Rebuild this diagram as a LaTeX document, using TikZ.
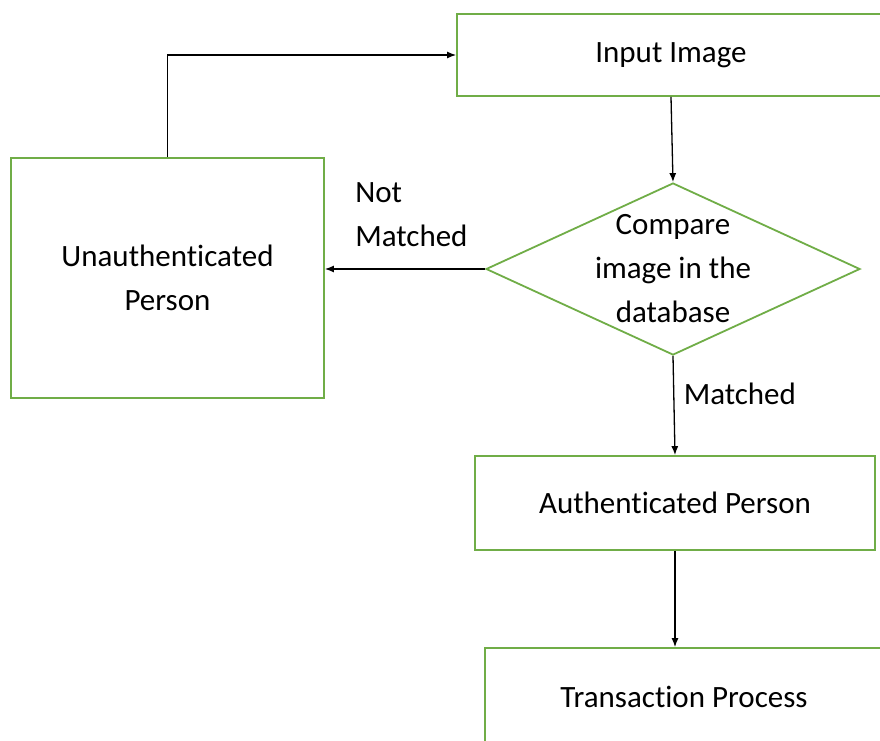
\documentclass[tikz,border=0pt]{standalone}
\usepackage{fontspec}
\setmainfont{Carlito}[Ligatures=CommonOff]
\usepackage{tikz}
\usetikzlibrary{shapes.geometric,positioning,arrows.meta}
\definecolor{boxgreen}{RGB}{112,173,71}

\begin{document}
\begin{tikzpicture}[x=1pt,y=-1pt,->,>={Latex[length=9pt,width=7pt]},line width=1.3pt,font=\fontsize{31}{44}\selectfont]
\tikzstyle{every node}=[text=black]
\tikzstyle{block}=[rectangle,draw=boxgreen,line width=1.8pt,fill=white,align=center]
\tikzstyle{decision}=[diamond,draw=boxgreen,line width=1.8pt,fill=white,minimum width=374pt,minimum height=172pt,inner sep=0pt]
\useasboundingbox (0,0) rectangle (880,740);

\node[block,minimum width=428pt,minimum height=82pt] (input) at (671,55) {Input Image};
\node[decision] (cmp) at (673,269) {};
\node[align=center] (cmptext) at (cmp.center) {Compare\\image in the\\database};
\node[block,minimum width=313pt,minimum height=240pt] (unauth) at (167.5,278) {Unauthenticated\\Person};
\node[block,minimum width=400pt,minimum height=94pt] (auth) at (675,503) {Authenticated Person};
\node[block,minimum width=398pt,minimum height=98pt] (trans) at (684,697) {Transaction Process};

\path
(input.south) edge (cmp.north)
(cmp.west) edge node[above=18pt,pos=0.46,align=left]{Not\\Matched} (cmp.west -| unauth.east)
(cmp.south) edge node[right=6pt,pos=0.38]{Matched} (auth.north)
(auth.south) edge (auth.south |- trans.north);
\draw (unauth.north) |- (input.west);
\end{tikzpicture}
\end{document}
